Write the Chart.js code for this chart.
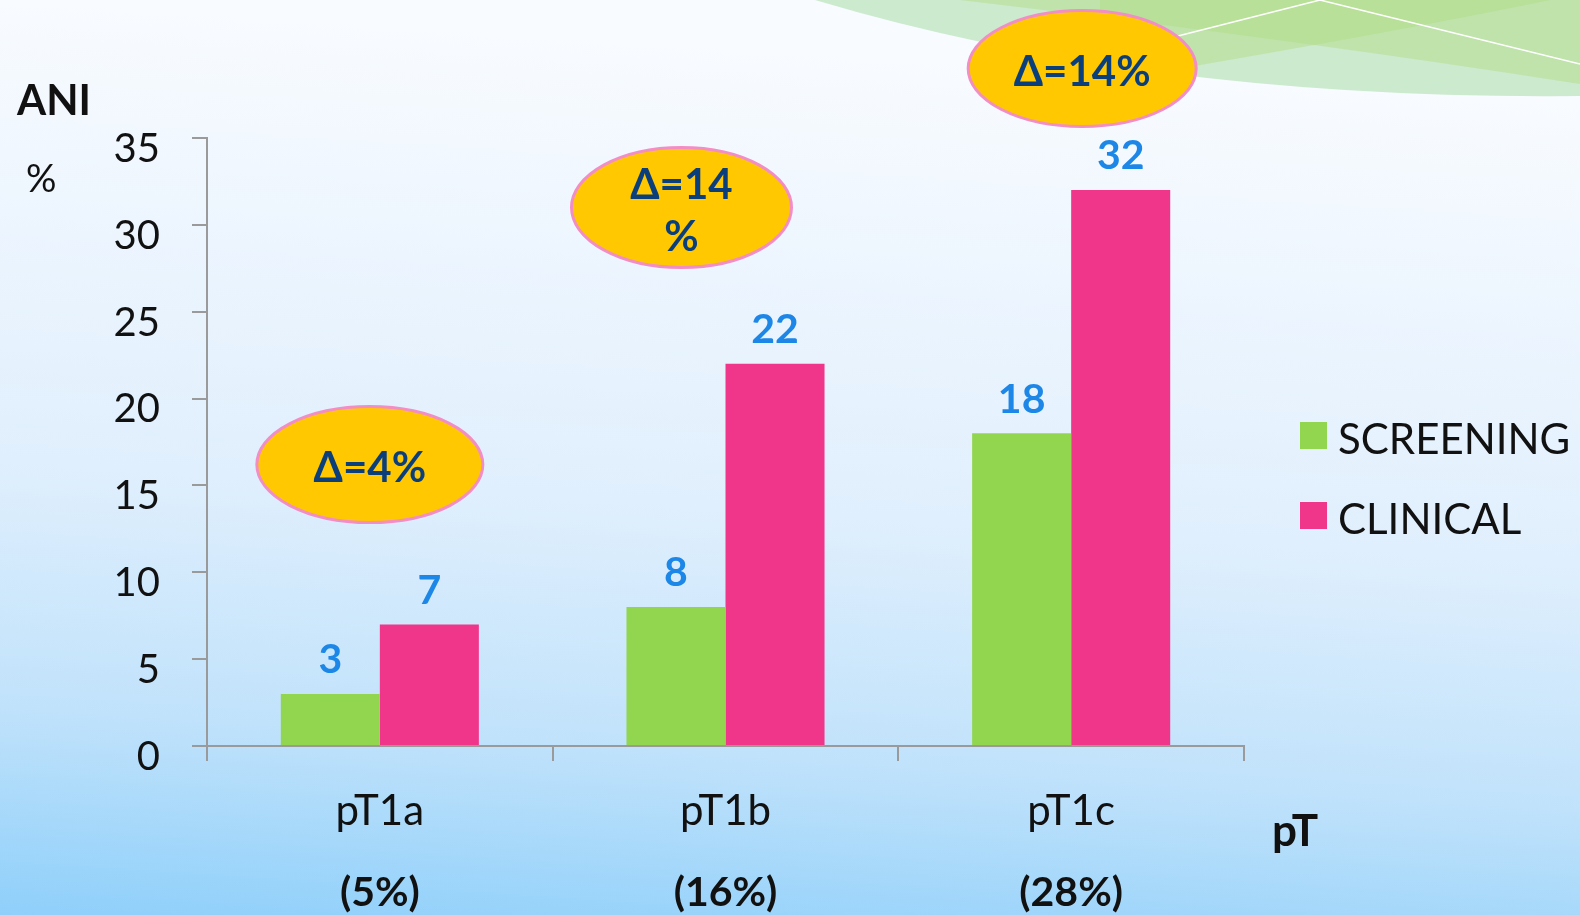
<!DOCTYPE html>
<html>
<head>
<meta charset="utf-8">
<script src="https://cdn.jsdelivr.net/npm/chart.js@4/dist/chart.umd.min.js"></script>
<style>
  html, body { margin: 0; padding: 0; }
  #wrap { width: 1580px; height: 915px; position: relative; }
</style>
</head>
<body>
<div id="wrap"><canvas id="myChart" width="1580" height="915"></canvas></div>
<script>
const categories = ['pT1a', 'pT1b', 'pT1c'];
const shares = ['(5%)', '(16%)', '(28%)'];
const screening = [3, 8, 18];
const clinical = [7, 22, 32];
const deltas = [['Δ=4%'], ['Δ=14', '%'], ['Δ=14%']];

const FONT = 'Lato, "Open Sans", sans-serif';
const AXIS_GREY = '#9a9a9a';

// page background: pale top fading to sky blue, plus the green swoosh top right
const backdrop = {
  id: 'backdrop',
  beforeDraw(chart) {
    const c = chart.ctx;
    const w = chart.width, h = chart.height;
    c.save();
    const g = c.createLinearGradient(0, 0, -60, h);
    g.addColorStop(0, '#f8fbff');
    g.addColorStop(0.5, '#e0effd');
    g.addColorStop(0.77, '#c0e2fb');
    g.addColorStop(1, '#8ecffa');
    c.fillStyle = g;
    c.fillRect(0, 0, w, h);

    c.fillStyle = 'rgba(196,230,196,0.85)';
    c.beginPath();
    c.moveTo(815, 0);
    c.quadraticCurveTo(1150, 100, 1580, 96);
    c.lineTo(1580, 0);
    c.closePath();
    c.fill();

    c.fillStyle = 'rgba(175,220,130,0.45)';
    c.beginPath();
    c.moveTo(960, 0);
    c.quadraticCurveTo(1300, 40, 1580, 84);
    c.lineTo(1580, 0);
    c.closePath();
    c.fill();

    c.beginPath();
    c.moveTo(1100, 82);
    c.quadraticCurveTo(1380, 35, 1550, 0);
    c.lineTo(1100, 0);
    c.closePath();
    c.fill();

    c.strokeStyle = '#ffffff';
    c.lineWidth = 1.5;
    c.beginPath();
    c.moveTo(1170, 38);
    c.lineTo(1320, 0);
    c.lineTo(1580, 64);
    c.stroke();
    c.restore();
  }
};

// value labels, share labels, legend, axis names and the delta bubbles
const decorations = {
  id: 'decorations',
  afterDatasetsDraw(chart) {
    const c = chart.ctx;
    const xs = chart.scales.x;
    const ys = chart.scales.y;
    c.save();

    // numbers above bars
    c.font = 'bold 41px ' + FONT;
    c.fillStyle = '#1d87e8';
    c.textAlign = 'center';
    c.textBaseline = 'middle';
    chart.data.datasets.forEach((ds, di) => {
      chart.getDatasetMeta(di).data.forEach((bar, i) => {
        c.fillText(String(ds.data[i]), bar.x, bar.y - 34);
      });
    });

    // share under each category
    c.font = 'bold 41px ' + FONT;
    c.fillStyle = '#111';
    shares.forEach((s, i) => {
      c.fillText(s, xs.getPixelForValue(i), 893);
    });

    // axis names
    c.textAlign = 'left';
    c.font = 'bold 42px ' + FONT;
    c.fillText('ANI', 17, 101);
    c.font = '38px ' + FONT;
    c.fillText('%', 26, 180);
    c.font = 'bold 44px ' + FONT;
    c.fillText('pT', 1272, 832);

    // legend
    chart.data.datasets.forEach((ds, di) => {
      const y = 436 + di * 80;
      c.fillStyle = ds.backgroundColor;
      c.fillRect(1300, y - 14, 27, 27);
      c.fillStyle = '#111';
      c.font = '42px ' + FONT;
      c.fillText(ds.label, 1338, y + 4);
    });

    // delta bubbles, anchored to category and value
    const bubbles = [
      { i: 0, v: 16.2, dx: -10, rx: 113, ry: 58 },
      { i: 1, v: 31.0, dx: -44, rx: 110, ry: 60 },
      { i: 2, v: 39.0, dx: 11, rx: 114, ry: 58 }
    ];
    bubbles.forEach((b, k) => {
      const cx = xs.getPixelForValue(b.i) + b.dx;
      const cy = ys.getPixelForValue(b.v);
      c.beginPath();
      c.ellipse(cx, cy, b.rx, b.ry, 0, 0, Math.PI * 2);
      c.fillStyle = '#ffc800';
      c.fill();
      c.lineWidth = 3;
      c.strokeStyle = '#f28ec4';
      c.stroke();
      c.fillStyle = '#0b3f7c';
      c.font = 'bold 42px ' + FONT;
      c.textAlign = 'center';
      const lines = deltas[k];
      lines.forEach((t, j) => {
        c.fillText(t, cx, cy + 4 + (j - (lines.length - 1) / 2) * 52);
      });
    });
    c.restore();
  }
};

new Chart(document.getElementById('myChart').getContext('2d'), {
  type: 'bar',
  data: {
    labels: categories,
    datasets: [
      { label: 'SCREENING', data: screening, backgroundColor: '#92d64f' },
      { label: 'CLINICAL', data: clinical, backgroundColor: '#f0368b' }
    ]
  },
  options: {
    responsive: false,
    animation: false,
    events: [],
    categoryPercentage: 0.573,
    barPercentage: 1.0,
    layout: { padding: { top: 138, right: 336, left: 0, bottom: 0 } },
    plugins: {
      legend: { display: false },
      tooltip: { enabled: false }
    },
    scales: {
      x: {
        afterFit(scale) { scale.height = 169; },
        grid: { drawOnChartArea: false, tickLength: 15, color: AXIS_GREY, lineWidth: 2 },
        border: { color: AXIS_GREY, width: 2 },
        ticks: {
          color: '#111',
          font: { family: FONT, size: 42 },
          padding: 25
        }
      },
      y: {
        min: 0,
        max: 35,
        afterFit(scale) { scale.width = 207; },
        grid: { drawOnChartArea: false, tickLength: 15, color: AXIS_GREY, lineWidth: 2 },
        border: { color: AXIS_GREY, width: 2 },
        ticks: {
          stepSize: 5,
          color: '#111',
          font: { family: FONT, size: 40 },
          padding: 32,
          labelOffset: 11
        }
      }
    }
  },
  plugins: [backdrop, decorations]
});
</script>
</body>
</html>
